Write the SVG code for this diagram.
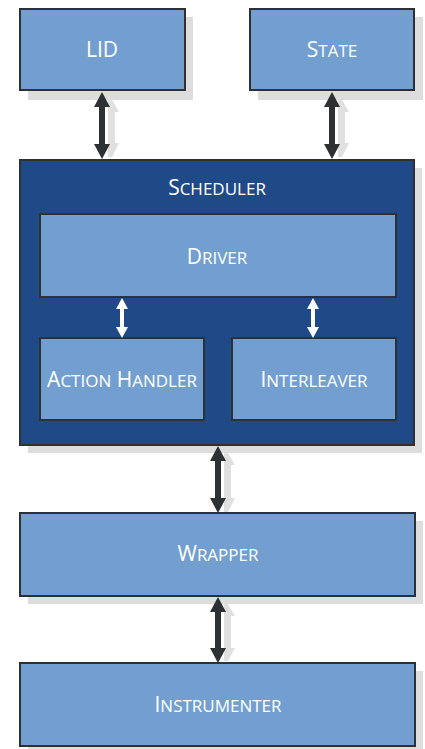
<svg xmlns="http://www.w3.org/2000/svg" width="425" height="749" viewBox="0 0 425 749">
<style>
.sh{fill:#dddddd}
.lb{fill:#729fcf;stroke:#2d3134;stroke-width:2}
.db{fill:#1f4a87;stroke:#2d3134;stroke-width:2}
.t{font-family:"Open Sans","Liberation Sans",sans-serif;font-size:21px;fill:#ffffff;text-anchor:middle}
.s{font-size:17px}
.ar{fill:#2d3134}
.as{fill:#e0e0e0}
.aw{fill:#ffffff}
</style>
<g id="shadows">
<rect class="sh" x="28" y="17" width="165" height="83"/>
<rect class="sh" x="258" y="17" width="165" height="83"/>
<rect class="sh" x="28" y="168" width="394" height="285"/>
<rect class="sh" x="28" y="521" width="395" height="83"/>
<rect class="sh" x="28" y="671" width="395" height="78"/>
<path class="as" d="M112,100 L119,112 L115,112 L115,143 L119,143 L112,157 L108,157 L108,100 Z"/>
<path class="as" d="M342,100 L349,112 L345,112 L345,143 L349,143 L342,157 L338,157 L338,100 Z"/>
<path class="as" d="M228,453 L235,465 L231,465 L231,498 L235,498 L228,512 L224,512 L224,453 Z"/>
<path class="as" d="M228,604 L235,616 L231,616 L231,648 L235,648 L228,661 L224,661 L224,604 Z"/>
</g>
<g id="lid">
<rect class="lb" x="20" y="9" width="165" height="81"/>
<text class="t" x="102" y="57">LID</text>
</g>
<g id="state">
<rect class="lb" x="250" y="9" width="164" height="81"/>
<text class="t" x="332" y="57">S<tspan class="s">TATE</tspan></text>
</g>
<g id="scheduler">
<rect class="db" x="20" y="160" width="394" height="285"/>
<text class="t" x="217" y="195">S<tspan class="s">CHEDULER</tspan></text>
</g>
<g id="driver">
<rect class="lb" x="40" y="214" width="356" height="83"/>
<text class="t" x="217" y="264">D<tspan class="s">RIVER</tspan></text>
</g>
<g id="action-handler">
<rect class="lb" x="40" y="338" width="164" height="82"/>
<text class="t" x="122" y="387">A<tspan class="s">CTION</tspan> H<tspan class="s">ANDLER</tspan></text>
</g>
<g id="interleaver">
<rect class="lb" x="232" y="338" width="164" height="82"/>
<text class="t" x="314" y="387">I<tspan class="s">NTERLEAVER</tspan></text>
</g>
<g id="wrapper">
<rect class="lb" x="20" y="513" width="395" height="83"/>
<text class="t" x="218" y="561">W<tspan class="s">RAPPER</tspan></text>
</g>
<g id="instrumenter">
<rect class="lb" x="20" y="663" width="395" height="83"/>
<text class="t" x="218" y="712">I<tspan class="s">NSTRUMENTER</tspan></text>
</g>
<g id="connectors">
<path class="ar" d="M102,92 L110,107 L105,107 L105,144 L110,144 L102,159 L94,144 L99,144 L99,107 L94,107 Z"/>
<path class="ar" d="M332,92 L340,107 L335,107 L335,144 L340,144 L332,159 L324,144 L329,144 L329,107 L324,107 Z"/>
<path class="ar" d="M218,446 L226,461 L221,461 L221,498 L226,498 L218,513 L210,498 L215,498 L215,461 L210,461 Z"/>
<path class="ar" d="M218,597 L226,612 L221,612 L221,648 L226,648 L218,663 L210,648 L215,648 L215,612 L210,612 Z"/>
<path class="aw" d="M122,298 L128,309 L124,309 L124,327 L128,327 L122,338 L116,327 L120,327 L120,309 L116,309 Z"/>
<path class="aw" d="M313,298 L319,309 L315,309 L315,327 L319,327 L313,338 L307,327 L311,327 L311,309 L307,309 Z"/>
</g>
</svg>
